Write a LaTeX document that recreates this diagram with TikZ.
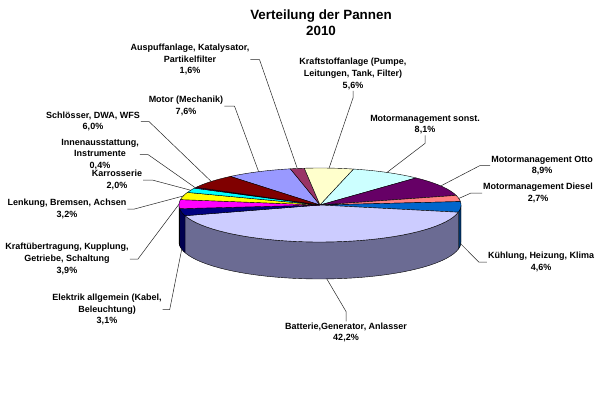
\documentclass[tikz,border=0pt]{standalone}
\usepackage{fontspec}
\setmainfont{Liberation Sans}
\newcommand\pieTop[3]{\filldraw[slice, fill=#1] (320,195) -- plot[domain=#2:#3, samples=40] ({320+141*cos(\x)},{195+37*sin(\x)}) -- cycle;}
\newcommand\pieSide[3]{\filldraw[slice, fill=#1] plot[domain=#2:#3, samples=40] ({320+141*cos(\x)},{195+37*sin(\x)}) -- plot[domain=#3:#2, samples=40] ({320+141*cos(\x)},{158+37*sin(\x)}) -- cycle;}
\definecolor{cMot}{HTML}{9999FF}
\definecolor{cAus}{HTML}{993366}
\definecolor{cKraft}{HTML}{FFFFCC}
\definecolor{cSonst}{HTML}{CCFFFF}
\definecolor{cOtto}{HTML}{660066}
\definecolor{cDies}{HTML}{FF8080}
\definecolor{cKuhl}{HTML}{0066CC}
\definecolor{cBat}{HTML}{CCCCFF}
\definecolor{cElek}{HTML}{000080}
\definecolor{cKub}{HTML}{FF00FF}
\definecolor{cLenk}{HTML}{FFFF00}
\definecolor{cKar}{HTML}{00FFFF}
\definecolor{cInn}{HTML}{800080}
\definecolor{cSchl}{HTML}{800000}
\definecolor{sKuhl}{HTML}{003366}
\definecolor{sBat}{HTML}{6B6B93}
\definecolor{sElek}{HTML}{000050}
\definecolor{sKub}{HTML}{990099}
\tikzset{
  slice/.style={draw=black, line width=0.4bp, line join=round},
  lbl/.style={font=\bfseries\fontsize{9bp}{11.8bp}\selectfont, align=center, inner sep=1bp, text=black},
  leader/.style={draw=black!85, line width=0.5bp},
  ttl/.style={font=\bfseries\fontsize{13.4bp}{16bp}\selectfont, align=center, inner sep=0pt}
}
\begin{document}
\begin{tikzpicture}[x=1bp, y=1bp]
\useasboundingbox[fill=white] (0,0) rectangle (600,400);
% side faces
\pieSide{sKuhl}{0}{-11.26}
\pieSide{sBat}{-11.26}{-163.18}
\pieSide{sElek}{-163.18}{-174.34}
\pieSide{sKub}{-174.34}{-180}
% top faces
\pieTop{cMot}{129.5}{102.14}
\pieTop{cAus}{102.14}{96.38}
\pieTop{cKraft}{96.38}{76.22}
\pieTop{cSonst}{76.22}{47.06}
\pieTop{cOtto}{47.06}{15.02}
\pieTop{cDies}{15.02}{5.3}
\pieTop{cKuhl}{5.3}{-11.26}
\pieTop{cBat}{-11.26}{-163.18}
\pieTop{cElek}{-163.18}{-174.34}
\pieTop{cKub}{-174.34}{-188.38}
\pieTop{cLenk}{-188.38}{-199.9}
\pieTop{cKar}{-199.9}{-207.1}
\pieTop{cInn}{-207.1}{-208.54}
\pieTop{cSchl}{-208.54}{-230.5}
% anchor points on slices
\coordinate (pMot) at ({320+141*cos(115.8)},{195+37*sin(115.8)});
\coordinate (pAus) at ({320+141*cos(99.26)},{195+37*sin(99.26)});
\coordinate (pKraft) at ({320+141*cos(86.3)},{195+37*sin(86.3)});
\coordinate (pSonst) at ({320+141*cos(61.64)},{195+37*sin(61.64)});
\coordinate (pOtto) at ({320+141*cos(31.04)},{195+37*sin(31.04)});
\coordinate (pDies) at ({320+141*cos(10.16)},{195+37*sin(10.16)});
\coordinate (pKuhl) at ({320+141*cos(-2.98)},{158+37*sin(-2.98)});
\coordinate (pBat) at ({320+141*cos(-87.22)},{158+37*sin(-87.22)});
\coordinate (pElek) at ({320+141*cos(-168.76)},{158+37*sin(-168.76)});
\coordinate (pKub) at ({320+141*cos(178.64)},{195+37*sin(178.64)});
\coordinate (pLenk) at ({320+141*cos(165.86)},{195+37*sin(165.86)});
\coordinate (pKar) at ({320+141*cos(156.5)},{195+37*sin(156.5)});
\coordinate (pInn) at ({320+141*cos(152.18)},{195+37*sin(152.18)});
\coordinate (pSchl) at ({320+141*cos(140.5)},{195+37*sin(140.5)});
% title
\node[ttl] (title) at (321,377) {Verteilung der Pannen\\2010};
% labels
\node[lbl] (lAus) at (190,340.5) {Auspuffanlage, Katalysator,\\Partikelfilter\\1,6\%};
\node[lbl] (lKraft) at (353,326) {Kraftstoffanlage (Pumpe,\\Leitungen, Tank, Filter)\\5,6\%};
\node[lbl] (lMot) at (186,294) {Motor (Mechanik)\\7,6\%};
\node[lbl] (lSchl) at (93,278.5) {Schlösser, DWA, WFS\\6,0\%};
\node[lbl] (lInn) at (100,245.5) {Innenausstattung,\\Instrumente\\0,4\%};
\node[lbl] (lKar) at (117,220) {Karrosserie\\2,0\%};
\node[lbl] (lLenk) at (67,191) {Lenkung, Bremsen, Achsen\\3,2\%};
\node[lbl] (lKub) at (67,141) {Kraftübertragung, Kupplung,\\Getriebe, Schaltung\\3,9\%};
\node[lbl] (lElek) at (107,90.5) {Elektrik allgemein (Kabel,\\Beleuchtung)\\3,1\%};
\node[lbl] (lBat) at (346,67.5) {Batterie,Generator, Anlasser\\42,2\%};
\node[lbl] (lKuhl) at (541,138) {Kühlung, Heizung, Klima\\4,6\%};
\node[lbl] (lDies) at (538,207) {Motormanagement Diesel\\2,7\%};
\node[lbl] (lOtto) at (542,234.5) {Motormanagement Otto\\8,9\%};
\node[lbl] (lSonst) at (425,275.5) {Motormanagement sonst.\\8,1\%};
% leaders
\draw[leader] (lAus.east) -- ++(9,0) -- (pAus);
\draw[leader] (lKraft.south) -- ++(0,-7) -- (pKraft);
\draw[leader] (lMot.east) -- ++(10,0) -- (pMot);
\draw[leader] (lSchl.east) -- ++(8,0) -- (pSchl);
\draw[leader] (lInn.east) -- ++(8,0) -- (pInn);
\draw[leader] (lKar.east) -- ++(9,0) -- (pKar);
\draw[leader] (lLenk.east) -- ++(7,0) -- (pLenk);
\draw[leader] (lKub.east) -- ++(8,0) -- (pKub);
\draw[leader] (lElek.east) -- ++(7,0) -- (pElek);
\draw[leader] (lBat.north) -- ++(0,10) -- (pBat);
\draw[leader] (lKuhl.west) -- ++(-8,0) -- (pKuhl);
\draw[leader] (lDies.west) -- ++(-11,0) -- (pDies);
\draw[leader] (lOtto.west) -- ++(-10,0) -- (pOtto);
\draw[leader] (lSonst.south) -- ++(0,-8) -- (pSonst);
\end{tikzpicture}
\end{document}
